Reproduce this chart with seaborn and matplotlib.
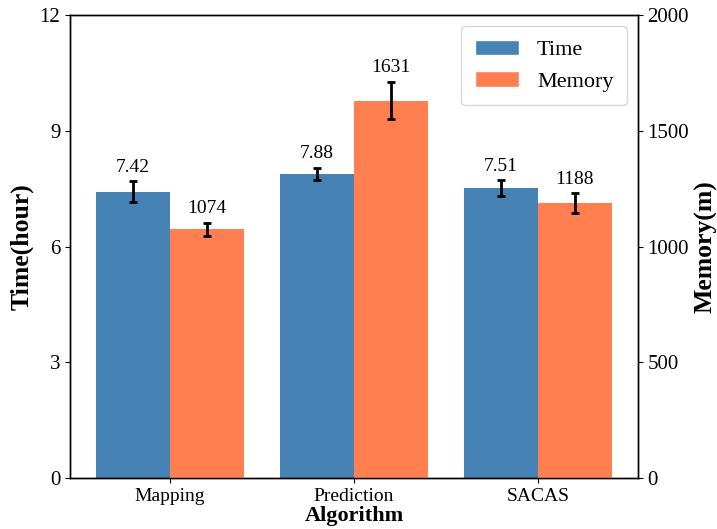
import numpy as np
import pandas as pd
import matplotlib
matplotlib.use("Agg")
import matplotlib.pyplot as plt
import seaborn as sns
from matplotlib.patches import Patch

algorithms = ["Mapping", "Prediction", "SACAS"]
time_vals = [7.42, 7.88, 7.51]
time_err = [0.27, 0.16, 0.21]
mem_vals = [1074, 1631, 1188]
mem_err = [29, 80, 43]
series = ["Time", "Memory"]
colors = {"Time": "#4682B4", "Memory": "#FF7F50"}

sns.set_style("ticks", {"text.color": "black", "axes.labelcolor": "black",
                        "xtick.color": "black", "ytick.color": "black",
                        "axes.edgecolor": "black"})
plt.rcParams["font.family"] = ["Liberation Serif", "DejaVu Serif"]
plt.rcParams["xtick.direction"] = "out"
plt.rcParams["ytick.direction"] = "out"

fig = plt.figure(figsize=(7.17, 5.29), dpi=100)
ax1 = fig.add_axes([0.0976, 0.0964, 0.792, 0.875])
ax2 = ax1.twinx()

nan = [np.nan] * len(algorithms)
df_t = pd.DataFrame({"Algorithm": algorithms * 2,
                     "Series": ["Time"] * 3 + ["Memory"] * 3,
                     "Value": time_vals + nan})
df_m = pd.DataFrame({"Algorithm": algorithms * 2,
                     "Series": ["Time"] * 3 + ["Memory"] * 3,
                     "Value": nan + mem_vals})

sns.barplot(data=df_t, x="Algorithm", y="Value", hue="Series", hue_order=series,
            palette=colors, order=algorithms, ax=ax1, errorbar=None, width=0.8,
            saturation=1, legend=False, linewidth=0)
sns.barplot(data=df_m, x="Algorithm", y="Value", hue="Series", hue_order=series,
            palette=colors, order=algorithms, ax=ax2, errorbar=None, width=0.8,
            saturation=1, legend=False, linewidth=0)

def bar_centers(ax):
    ps = [p for p in ax.patches if p.get_height() > 0 and not np.isnan(p.get_height())]
    ps.sort(key=lambda p: p.get_x())
    return [p.get_x() + p.get_width() / 2 for p in ps]

tc = bar_centers(ax1)
mc = bar_centers(ax2)

ax1.errorbar(tc, time_vals, yerr=time_err, fmt="none", ecolor="black",
             elinewidth=2, capsize=3, capthick=2)
ax2.errorbar(mc, mem_vals, yerr=mem_err, fmt="none", ecolor="black",
             elinewidth=2, capsize=3, capthick=2)

for x, v, e in zip(tc, time_vals, time_err):
    ax1.annotate(f"{v:.2f}", (x, v + e), xytext=(0, 4), textcoords="offset points",
                 ha="center", va="bottom", fontsize=14, color="black")
for x, v, e in zip(mc, mem_vals, mem_err):
    ax2.annotate(f"{v}", (x, v + e), xytext=(0, 4), textcoords="offset points",
                 ha="center", va="bottom", fontsize=14, color="black")

ax1.set_ylim(0, 12)
ax1.set_yticks([0, 3, 6, 9, 12])
ax2.set_ylim(0, 2000)
ax2.set_yticks([0, 500, 1000, 1500, 2000])
ax1.set_xlim(-0.543, 2.543)
ax2.set_xlim(-0.543, 2.543)

ax1.set_ylabel("Time(hour)", fontsize=18.5, fontweight="bold", color="black")
ax2.set_ylabel("Memory(m)", fontsize=18.5, fontweight="bold", color="black")
ax1.set_xlabel("Algorithm", fontsize=16, fontweight="bold", labelpad=1, color="black")
ax1.tick_params(axis="y", labelsize=15, length=3.5, colors="black")
ax2.tick_params(axis="y", labelsize=15, length=3.5, colors="black")
ax1.tick_params(axis="x", labelsize=14, length=3.5, colors="black")

for ax in (ax1, ax2):
    for s in ax.spines.values():
        s.set_visible(True)
        s.set_color("black")
        s.set_linewidth(1)

handles = [Patch(facecolor=colors[s], label=s) for s in series]
leg = ax2.legend(handles=handles, loc="upper right", fontsize=16, frameon=True,
                 handlelength=2.0, borderpad=0.6, labelspacing=0.5)
for t in leg.get_texts():
    t.set_color("black")

fig.savefig("out.png", dpi=100)
